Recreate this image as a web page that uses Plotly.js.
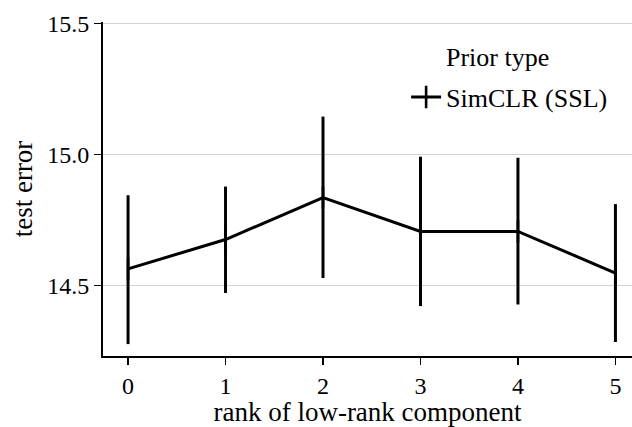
<!DOCTYPE html>
<html>
<head>
<meta charset="utf-8">
<script src="https://cdn.plot.ly/plotly-3.0.1.min.js"></script>
<style>html,body{margin:0;padding:0;background:#fff;}#chart{width:632px;height:427px;}</style>
</head>
<body>
<div id="chart"></div>
<script>
const ranks = [0, 1, 2, 3, 4, 5];
const testError = [14.563, 14.675, 14.835, 14.706, 14.706, 14.547];
const errUpper = [14.844, 14.877, 15.144, 14.991, 14.987, 14.810];
const errLower = [14.276, 14.471, 14.528, 14.421, 14.427, 14.284];
const seriesName = "SimCLR (SSL)";
const legendTitle = "Prior type";
const yTicks = [14.5, 15.0, 15.5];
const yTickText = ["14.5", "15.0", "15.5"];

const errPlus = testError.map((v, i) => errUpper[i] - v);
const errMinus = testError.map((v, i) => v - errLower[i]);

const font = "Liberation Serif";

const trace = {
  x: ranks,
  y: testError,
  name: seriesName,
  type: "scatter",
  mode: "lines+markers",
  line: {color: "#000", width: 3},
  marker: {symbol: "line-ns-open", size: 16, color: "#000", line: {color: "#000", width: 2.6}},
  error_y: {type: "data", symmetric: false, array: errPlus, arrayminus: errMinus,
            color: "#000", thickness: 3, width: 0},
  showlegend: true
};

const layout = {
  width: 632, height: 427,
  margin: {l: 103, r: 0, t: 22, b: 71},
  paper_bgcolor: "#fff", plot_bgcolor: "#fff",
  font: {family: font, color: "#000", size: 24},
  xaxis: {
    range: [-0.257, 5.17], tickvals: ranks, ticktext: ranks.map(String),
    showgrid: false, zeroline: false,
    showline: true, linecolor: "#000", linewidth: 2,
    ticks: "outside", ticklen: 7, tickwidth: 1.5, tickcolor: "#000",
    tickfont: {family: font, size: 24},
    title: {text: "rank of low-rank component", font: {family: font, size: 27}, standoff: 4}
  },
  yaxis: {
    range: [14.2305, 15.505], tickvals: yTicks, ticktext: yTickText,
    showgrid: true, gridcolor: "#d3d3d3", gridwidth: 1.5, zeroline: false,
    showline: true, linecolor: "#000", linewidth: 2,
    ticks: "outside", ticklen: 7, tickwidth: 1.5, tickcolor: "#000",
    tickfont: {family: font, size: 24},
    title: {text: "test error", font: {family: font, size: 27}, standoff: 7}
  },
  legend: {
    x: 0.573, y: 0.775, xanchor: "left", yanchor: "middle",
    bgcolor: "rgba(0,0,0,0)", borderwidth: 0,
    font: {family: font, size: 26}
  },
  annotations: [{
    text: legendTitle, xref: "paper", yref: "paper", x: 0.745, y: 0.895,
    xanchor: "center", yanchor: "middle", showarrow: false,
    font: {family: font, size: 26, color: "#000"}
  }],
  showlegend: true
};

Plotly.newPlot("chart", [trace], layout, {staticPlot: true, displayModeBar: false});
</script>
</body>
</html>
